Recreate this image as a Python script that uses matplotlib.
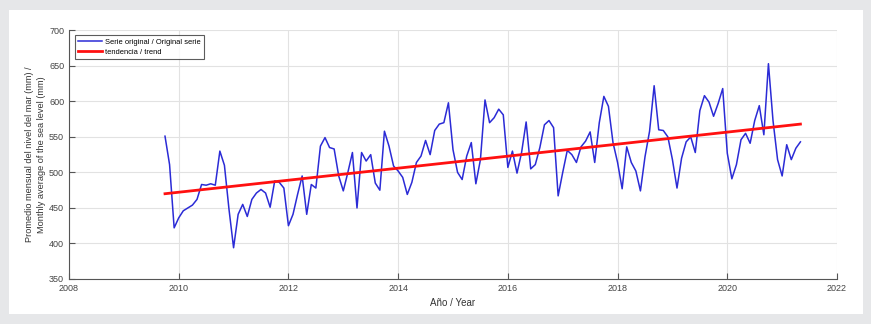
import numpy as np
import matplotlib
matplotlib.use('Agg')
from matplotlib import pyplot as plt
from matplotlib.patches import Rectangle

# serie mensual del nivel del mar (mm), oct 2009 - abr 2021
start_year = 2009 + 9 / 12
nivel = [551, 511, 422, 436, 446, 450, 454, 462, 483, 482, 484, 482,
         530, 510, 448, 394, 441, 455, 438, 462, 471, 476, 471, 451,
         488, 486, 478, 425, 441, 469, 495, 441, 483, 478, 537, 549,
         535, 533, 495, 474, 500, 528, 450, 528, 516, 525, 485, 475,
         558, 537, 509, 502, 493, 469, 486, 514, 523, 545, 525, 559,
         568, 570, 598, 532, 500, 490, 523, 542, 484, 518, 602, 570,
         577, 589, 581, 507, 530, 499, 528, 571, 505, 511, 535, 567,
         573, 563, 467, 500, 531, 525, 514, 536, 544, 557, 514, 570,
         607, 593, 542, 514, 477, 536, 514, 502, 474, 522, 558, 622,
         560, 559, 550, 518, 478, 520, 543, 550, 528, 587, 608, 599,
         579, 597, 618, 527, 491, 511, 546, 555, 541, 573, 594, 553,
         653, 573, 518, 495, 539, 518, 534, 543]
anios = start_year + np.arange(len(nivel)) / 12

# tendencia (extremos)
tend_x = [anios[0], anios[-1]]
tend_y = [470, 568]

plt.rcParams['font.family'] = ['Liberation Sans', 'DejaVu Sans']

fig = plt.figure(figsize=(8.71, 3.24), dpi=100)
fig.patch.set_facecolor('#e6e7e9')
fig.add_artist(Rectangle((9 / 871, 1 - 314 / 324), 854 / 871, 304 / 324,
                         transform=fig.transFigure, facecolor='white',
                         edgecolor='none', zorder=0))

ax = fig.add_axes([69 / 871, 1 - 279 / 324, 768 / 871, 248.7 / 324])
ax.plot(anios, nivel, color='#2b2bd6', lw=1.1,
        label='Serie original / Original serie')
ax.plot(tend_x, tend_y, color='#ff1010', lw=2,
        label='tendencia / trend')

ax.set_xlim(2008, 2022)
ax.set_ylim(350, 700)
ax.set_xticks(np.arange(2008, 2023, 2))
ax.set_yticks(np.arange(350, 701, 50))
ax.grid(True, color='#e2e2e2', lw=0.8)
ax.set_axisbelow(True)
for s in ['top', 'right']:
    ax.spines[s].set_visible(False)
for s in ['left', 'bottom']:
    ax.spines[s].set_color('#555555')
    ax.spines[s].set_linewidth(0.8)
ax.tick_params(direction='in', length=4, width=0.8, colors='#555555',
               labelsize=6.5, labelcolor='#444444')
ax.set_xlabel('Año / Year', fontsize=7, color='#333333', labelpad=4)
ax.set_ylabel('Promedio mensual del nivel del mar (mm) /\n'
              'Monthly average of the sea level (mm)',
              fontsize=6.6, color='#333333', labelpad=2, linespacing=1.45)

leg = ax.legend(loc='upper left', fontsize=5.4, frameon=True, fancybox=False,
                borderpad=0.4, labelspacing=0.4, handlelength=3.2,
                handletextpad=0.4, borderaxespad=0,
                bbox_to_anchor=(6 / 768, 1 - 5 / 248.7))
leg.get_frame().set_edgecolor('#333333')
leg.get_frame().set_linewidth(0.8)

fig.savefig('out.png', dpi=100, facecolor=fig.get_facecolor())
